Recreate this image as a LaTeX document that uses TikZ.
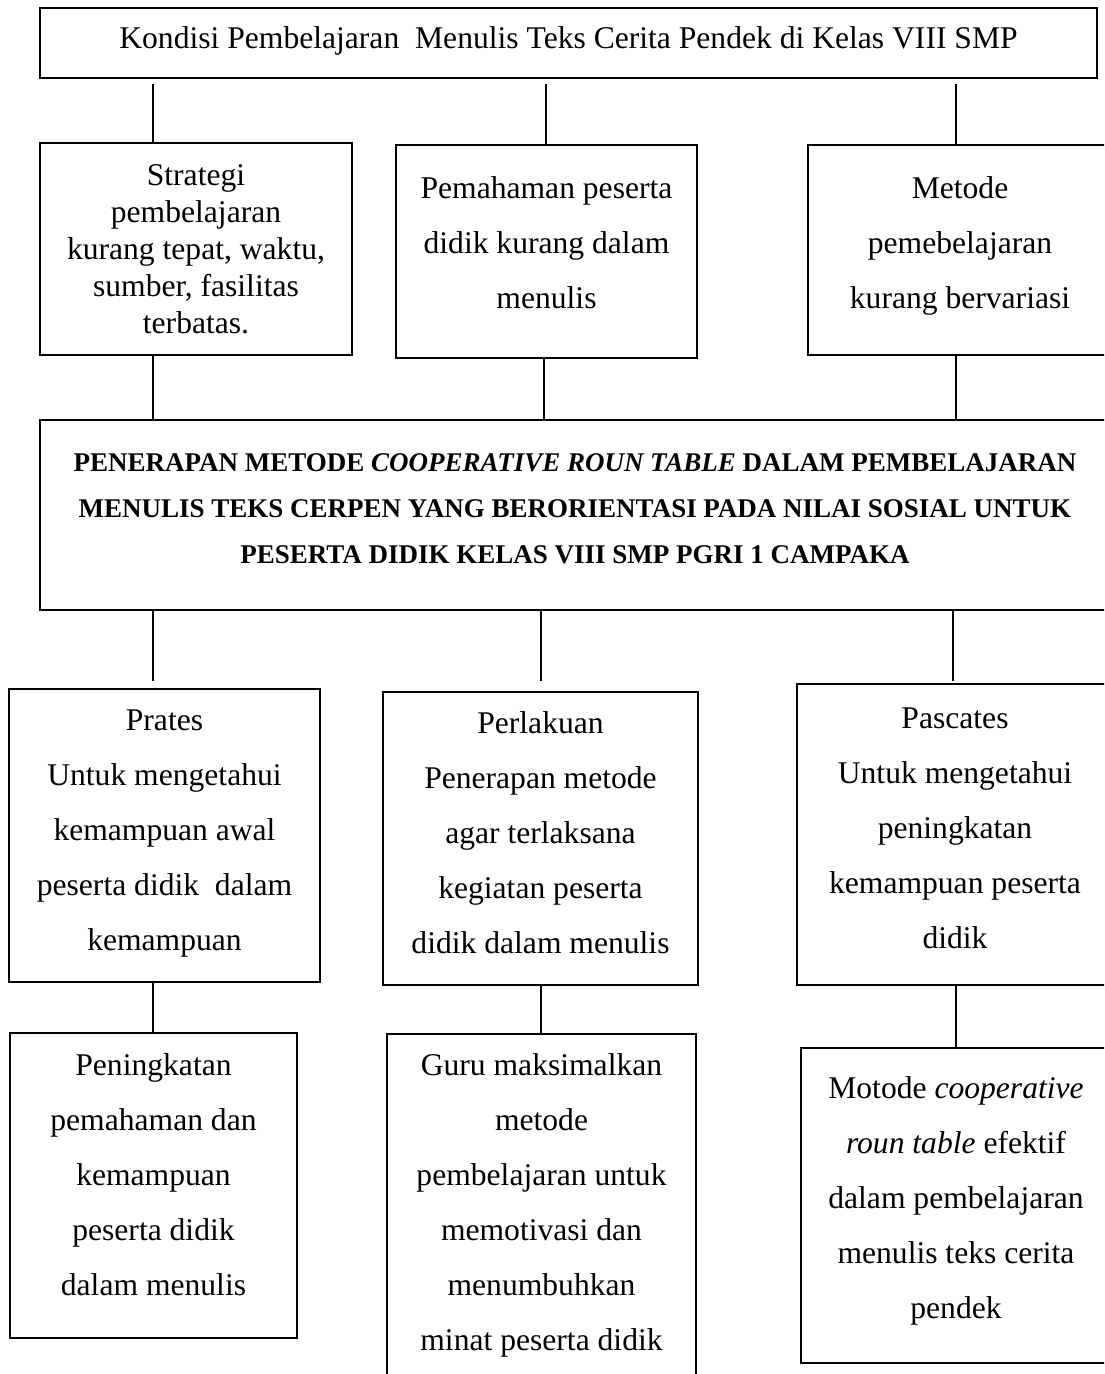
\documentclass[tikz,border=0pt]{standalone}
\usepackage{fontspec}
\setmainfont{Liberation Serif}
\tikzset{
  box/.style={draw, line width=1.1pt, inner sep=0pt, align=center,
    font=\fontsize{15.8}{27.5}\selectfont},
  tight/.style={font=\fontsize{15.8}{18.5}\selectfont},
  bigbox/.style={font=\fontsize{13.5}{23}\selectfont\bfseries},
  conn/.style={line width=0.55pt},
}
% lift text inside its box without changing its reported extent
\newcommand{\mytx}[3]{\raisebox{#1}[\height][\depth]{\parbox{#2}{\centering #3}}}
\begin{document}
\begin{tikzpicture}[x=0.5pt, y=-0.5pt]
\useasboundingbox (0,0) rectangle (1104,1374);
\clip (0,0) rectangle (1104,1374);
\fill[white] (0,0) rectangle (1104,1374);

% x positions of connectors
\coordinate (xa) at (153,0);
\coordinate (xb) at (546,0);
\coordinate (xc) at (956,0);
\coordinate (xb2) at (544,0);
\coordinate (xe) at (541,0);
\coordinate (xf) at (953,0);

\node[box, minimum width=528.5pt, minimum height=35pt] (T) at (568.5,43)
  {\mytx{1pt}{520pt}{Kondisi Pembelajaran~ Menulis Teks Cerita Pendek di Kelas VIII SMP}};

\node[box, tight, minimum width=156pt, minimum height=106pt] (A) at (196,249)
  {\mytx{0pt}{145pt}{Strategi\\pembelajaran\\kurang tepat, waktu,\\sumber, fasilitas\\terbatas.}};
\node[box, minimum width=150.5pt, minimum height=106.5pt] (B) at (546.5,251.5)
  {\mytx{4.5pt}{140pt}{Pemahaman peserta\\didik kurang dalam\\menulis}};
\node[box, minimum width=152pt, minimum height=105pt] (C) at (960,250)
  {\mytx{2pt}{140pt}{Metode\\pemebelajaran\\kurang bervariasi}};

\node[box, bigbox, minimum width=535pt, minimum height=95pt] (P) at (575,515)
  {\mytx{3pt}{520pt}{PENERAPAN METODE \textit{COOPERATIVE ROUN TABLE} DALAM PEMBELAJARAN\\MENULIS TEKS CERPEN YANG BERORIENTASI PADA NILAI SOSIAL UNTUK\\PESERTA DIDIK KELAS VIII SMP PGRI 1 CAMPAKA}};

\node[box, minimum width=155.5pt, minimum height=146.5pt] (D) at (164.5,835.5)
  {\mytx{1pt}{145pt}{Prates\\Untuk mengetahui\\kemampuan awal\\peserta didik~ dalam\\kemampuan}};
\node[box, minimum width=157.5pt, minimum height=146.5pt] (E) at (540.5,838.5)
  {\mytx{3pt}{145pt}{Perlakuan\\Penerapan metode\\agar terlaksana\\kegiatan peserta\\didik dalam menulis}};
\node[box, minimum width=158pt, minimum height=150.5pt] (F) at (955,834.5)
  {\mytx{3pt}{145pt}{Pascates\\Untuk mengetahui\\peningkatan\\kemampuan peserta\\didik}};

\node[box, minimum width=143.5pt, minimum height=152.5pt] (G) at (153.5,1185.5)
  {\mytx{5.5pt}{135pt}{Peningkatan\\pemahaman dan\\kemampuan\\peserta didik\\dalam menulis}};
\node[box, minimum width=154.5pt, minimum height=173pt] (H) at (541.5,1207)
  {\mytx{1pt}{145pt}{Guru maksimalkan\\metode\\pembelajaran untuk\\memotivasi dan\\menumbuhkan\\minat peserta didik}};
\node[box, minimum width=155pt, minimum height=157.5pt] (I) at (956,1205.5)
  {\mytx{2.5pt}{145pt}{Motode \textit{cooperative}\\\textit{roun table} efektif\\dalam pembelajaran\\menulis teks cerita\\pendek}};

% connectors
\draw[conn, shorten >=2.5pt] (A.north -| xa) -- (T.south -| xa);
\draw[conn, shorten >=2.5pt] (B.north -| xb) -- (T.south -| xb);
\draw[conn, shorten >=2.5pt] (C.north -| xc) -- (T.south -| xc);

\draw[conn] (A.south -| xa) -- (P.north -| xa);
\draw[conn] (B.south -| xb2) -- (P.north -| xb2);
\draw[conn] (C.south -| xc) -- (P.north -| xc);

\draw[conn, shorten >=3.5pt] (P.south -| xa) -- (D.north -| xa);
\draw[conn, shorten >=5pt] (P.south -| xe) -- (E.north -| xe);
\draw[conn, shorten >=1pt] (P.south -| xf) -- (F.north -| xf);

\draw[conn] (D.south -| xa) -- (G.north -| xa);
\draw[conn] (E.south -| xe) -- (H.north -| xe);
\draw[conn] (F.south -| xc) -- (I.north -| xc);
\end{tikzpicture}
\end{document}
